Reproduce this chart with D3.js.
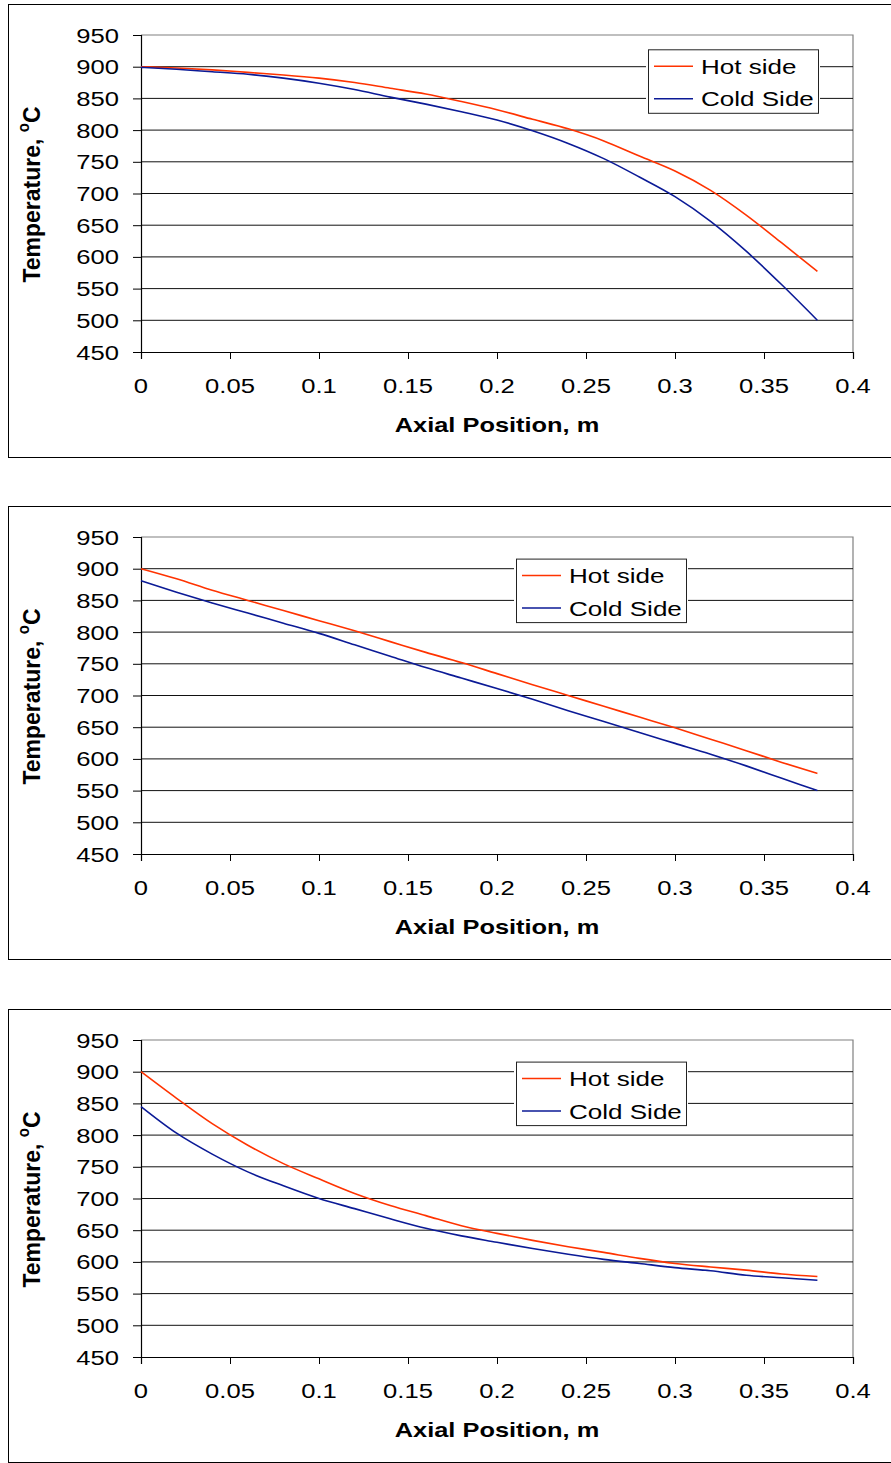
<!DOCTYPE html>
<html>
<head>
<meta charset="utf-8">
<script src="https://cdn.jsdelivr.net/npm/d3@7"></script>
<style>
  html, body { margin: 0; padding: 0; background: #fff; }
  svg { display: block; }
  text { font-family: "Liberation Sans", Arial, sans-serif; fill: #000; }
</style>
</head>
<body>
<script>
// Axial temperature profiles of the hot and cold sides, three cases.
const positions = [0, 0.02, 0.04, 0.06, 0.08, 0.10, 0.12, 0.14, 0.16, 0.18,
                   0.20, 0.22, 0.24, 0.26, 0.28, 0.30, 0.32, 0.34, 0.36, 0.38];

const hotSide1  = [900, 898, 895, 891, 887, 882, 875, 866, 857, 845,
                   832, 817, 802, 783, 759, 735.5, 705, 666, 622, 577];
const coldSide1 = [899, 896, 892, 888, 882, 874, 864, 852, 841, 829,
                   816, 799, 779, 755, 726, 695, 656, 609, 556, 500];

const hotSide2  = [900, 884, 866, 850, 834, 818, 802, 785, 768, 752,
                   734.5, 717, 700, 683, 666, 649, 631, 613, 594.5, 577];
const coldSide2 = [881, 863, 846, 830, 814, 798, 780, 762, 744, 727.5,
                   711, 694, 676, 659, 641.5, 624.5, 607.5, 589, 569.5, 550];

const hotSide3  = [900, 858, 818, 784, 755, 731, 708, 689, 673, 657,
                   645, 634, 624, 615, 605.5, 597.5, 592, 587, 581, 577];
const coldSide3 = [845, 803, 770, 742, 720, 700, 684, 668, 653, 641,
                   631, 621, 612, 604, 597.5, 591, 586, 579, 575, 571];

const seriesNames = ["Hot side", "Cold Side"];
const seriesColors = ["#ff3300", "#0b1a96"];

const xTicks = [0, 0.05, 0.1, 0.15, 0.2, 0.25, 0.3, 0.35, 0.4];
const xTickLabels = ["0", "0.05", "0.1", "0.15", "0.2", "0.25", "0.3", "0.35", "0.4"];
const yTicks = [450, 500, 550, 600, 650, 700, 750, 800, 850, 900, 950];

const xTitle = "Axial Position, m";
const yTitle = "Temperature, ";

const panels = [
  { hot: hotSide1, cold: coldSide1, offset: 0,    legendX: 648, legendTop: 14.3 },
  { hot: hotSide2, cold: coldSide2, offset: 502,  legendX: 516, legendTop: 21.6 },
  { hot: hotSide3, cold: coldSide3, offset: 1005, legendX: 516, legendTop: 21.6 }
];

const W = 891, H = 1463;
const svg = d3.select("body").append("svg").attr("width", W).attr("height", H);

const plotLeft = 141, plotRight = 853, plotTop = 35, plotH = 317;
const x = d3.scaleLinear().domain([0, 0.4]).range([plotLeft, plotRight]);
const tickFont = 21, tickStretch = 1.22;

// Text drawn with a horizontal stretch about its anchor point
function stretchedText(g, px, py, str, opts) {
  return g.append("text")
    .attr("transform", `translate(${px},${py}) scale(${opts.sx},1)` + (opts.rotate ? ` rotate(${opts.rotate})` : ""))
    .attr("text-anchor", opts.anchor || "start")
    .style("font-size", opts.size + "px")
    .style("font-weight", opts.bold ? "bold" : "normal")
    .text(str);
}

panels.forEach(p => {
  const top = plotTop + p.offset;
  const bottom = top + plotH;
  const y = d3.scaleLinear().domain([450, 950]).range([bottom, top]);
  const g = svg.append("g");

  // outer chart frame
  g.append("rect")
    .attr("x", 8.5).attr("y", 4.5 + p.offset)
    .attr("width", 900).attr("height", 453)
    .attr("fill", "#fff").attr("stroke", "#000").attr("stroke-width", 1);

  // plot area border (top and right)
  g.append("path")
    .attr("d", `M${plotLeft},${top}H${plotRight}V${bottom}`)
    .attr("fill", "none").attr("stroke", "#808080").attr("stroke-width", 1.2);

  // horizontal gridlines
  g.append("g").selectAll("line").data(yTicks.filter(d => d > 450 && d < 950)).join("line")
    .attr("x1", plotLeft).attr("x2", plotRight)
    .attr("y1", d => y(d)).attr("y2", d => y(d))
    .attr("stroke", "#111").attr("stroke-width", 1);

  // y axis
  const yAxis = d3.axisLeft(y).tickValues(yTicks).tickSize(8).tickFormat("");
  g.append("g").attr("transform", `translate(${plotLeft},0)`).call(yAxis)
    .call(a => a.select(".domain").attr("stroke", "#000").attr("stroke-width", 1.2))
    .call(a => a.selectAll(".tick line").attr("stroke", "#000"));

  // x axis
  const xAxis = d3.axisBottom(x).tickValues(xTicks).tickSize(7).tickSizeOuter(7).tickFormat("");
  g.append("g").attr("transform", `translate(0,${bottom})`).call(xAxis)
    .call(a => a.select(".domain").attr("stroke", "#000").attr("stroke-width", 1.2))
    .call(a => a.selectAll(".tick line").attr("stroke", "#000"));

  // tick labels
  yTicks.forEach(v => {
    stretchedText(g, 119, y(v) + 7.5, String(v), { sx: tickStretch, size: tickFont, anchor: "end" });
  });
  xTicks.forEach((v, i) => {
    stretchedText(g, x(v), bottom + 40.5, xTickLabels[i], { sx: tickStretch, size: tickFont, anchor: "middle" });
  });

  // axis titles
  stretchedText(g, (plotLeft + plotRight) / 2, bottom + 80, xTitle,
    { sx: 1.21, size: 21, anchor: "middle", bold: true });
  const yt = stretchedText(g, 40, (top + bottom) / 2 + 1, yTitle,
    { sx: 1.07, size: 23, anchor: "middle", bold: true, rotate: -90 });
  yt.append("tspan").attr("dy", -10).style("font-size", "15px").text("o");
  yt.append("tspan").attr("dy", 10).text("C");

  // series lines
  const line = d3.line()
    .x((d, i) => x(positions[i]))
    .y(d => y(d))
    .curve(d3.curveMonotoneX);
  [p.hot, p.cold].forEach((vals, k) => {
    g.append("path").datum(vals)
      .attr("d", line)
      .attr("fill", "none")
      .attr("stroke", seriesColors[k])
      .attr("stroke-width", 1.6)
      .attr("stroke-linejoin", "round");
  });

  // legend
  const ly = top + p.legendTop;
  const lg = g.append("g");
  lg.append("rect")
    .attr("x", p.legendX - 2).attr("y", ly - 2)
    .attr("width", 174).attr("height", 67.5)
    .attr("fill", "#fff");
  lg.append("rect")
    .attr("x", p.legendX + 0.5).attr("y", ly + 0.5)
    .attr("width", 170).attr("height", 63.5)
    .attr("fill", "#fff").attr("stroke", "#222").attr("stroke-width", 1);
  seriesNames.forEach((name, k) => {
    const yy = ly + 17 + k * 32.5;
    lg.append("line")
      .attr("x1", p.legendX + 6).attr("x2", p.legendX + 45)
      .attr("y1", yy).attr("y2", yy)
      .attr("stroke", seriesColors[k]).attr("stroke-width", 1.5);
    stretchedText(lg, p.legendX + 53, yy + 7.5, name, { sx: 1.24, size: 21, anchor: "start" });
  });
});
</script>
</body>
</html>
